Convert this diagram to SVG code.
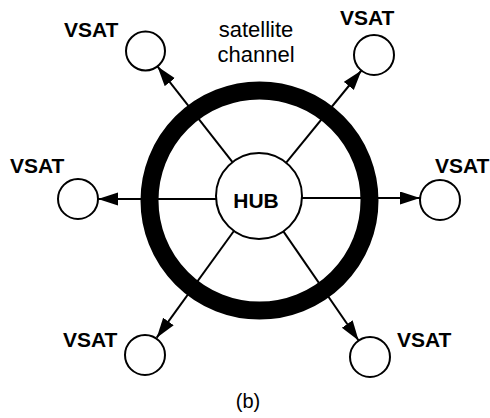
<svg xmlns="http://www.w3.org/2000/svg" width="490" height="418" viewBox="0 0 490 418">
<style>
.lbl{font-family:"Liberation Sans",Arial,sans-serif;font-weight:bold;font-size:21px;fill:#000}
.txt{font-family:"Liberation Sans",Arial,sans-serif;font-size:22px;fill:#000}
.node{fill:#fff;stroke:#000;stroke-width:2}
.conn{stroke:#000;stroke-width:2;fill:none;marker-end:url(#ah)}
</style>
<defs>
<marker id="ah" markerUnits="userSpaceOnUse" markerWidth="22" markerHeight="14" refX="20" refY="6.5" orient="auto">
<path d="M0,0 L20,6.5 L0,13 z" fill="#000"/>
</marker>
</defs>
<rect width="490" height="418" fill="#fff"/>
<g id="channel">
<circle cx="259.5" cy="200.5" r="110" fill="none" stroke="#000" stroke-width="18"/>
<text class="txt" x="256" y="37" text-anchor="middle">satellite</text>
<text class="txt" x="256" y="62" text-anchor="middle">channel</text>
</g>
<g id="connectors">
<line class="conn" x1="232.5" y1="162.1" x2="157.5" y2="66.4"/>
<line class="conn" x1="286.2" y1="162.7" x2="361.4" y2="70.5"/>
<line class="conn" x1="302" y1="198" x2="420" y2="198"/>
<line class="conn" x1="216" y1="199" x2="98" y2="199"/>
<line class="conn" x1="233.9" y1="231" x2="156.7" y2="337.7"/>
<line class="conn" x1="283.4" y1="231.4" x2="358.6" y2="340.5"/>
</g>
<g id="hub">
<circle class="node" cx="259" cy="196" r="43"/>
<text class="lbl" x="256" y="208" text-anchor="middle">HUB</text>
</g>
<g id="vsat-tl">
<circle class="node" cx="145.5" cy="51" r="19.5"/>
<text class="lbl" x="64" y="37">VSAT</text>
</g>
<g id="vsat-tr">
<circle class="node" cx="374" cy="55" r="20"/>
<text class="lbl" x="340" y="25">VSAT</text>
</g>
<g id="vsat-r">
<circle class="node" cx="440" cy="200" r="20"/>
<text class="lbl" x="435" y="173">VSAT</text>
</g>
<g id="vsat-l">
<circle class="node" cx="78" cy="199" r="20"/>
<text class="lbl" x="10" y="173">VSAT</text>
</g>
<g id="vsat-bl">
<circle class="node" cx="145" cy="355" r="20"/>
<text class="lbl" x="63" y="347">VSAT</text>
</g>
<g id="vsat-br">
<circle class="node" cx="370" cy="357" r="20"/>
<text class="lbl" x="397" y="347">VSAT</text>
</g>
<text class="txt" x="248" y="408" text-anchor="middle" style="font-size:20px">(b)</text>
</svg>
